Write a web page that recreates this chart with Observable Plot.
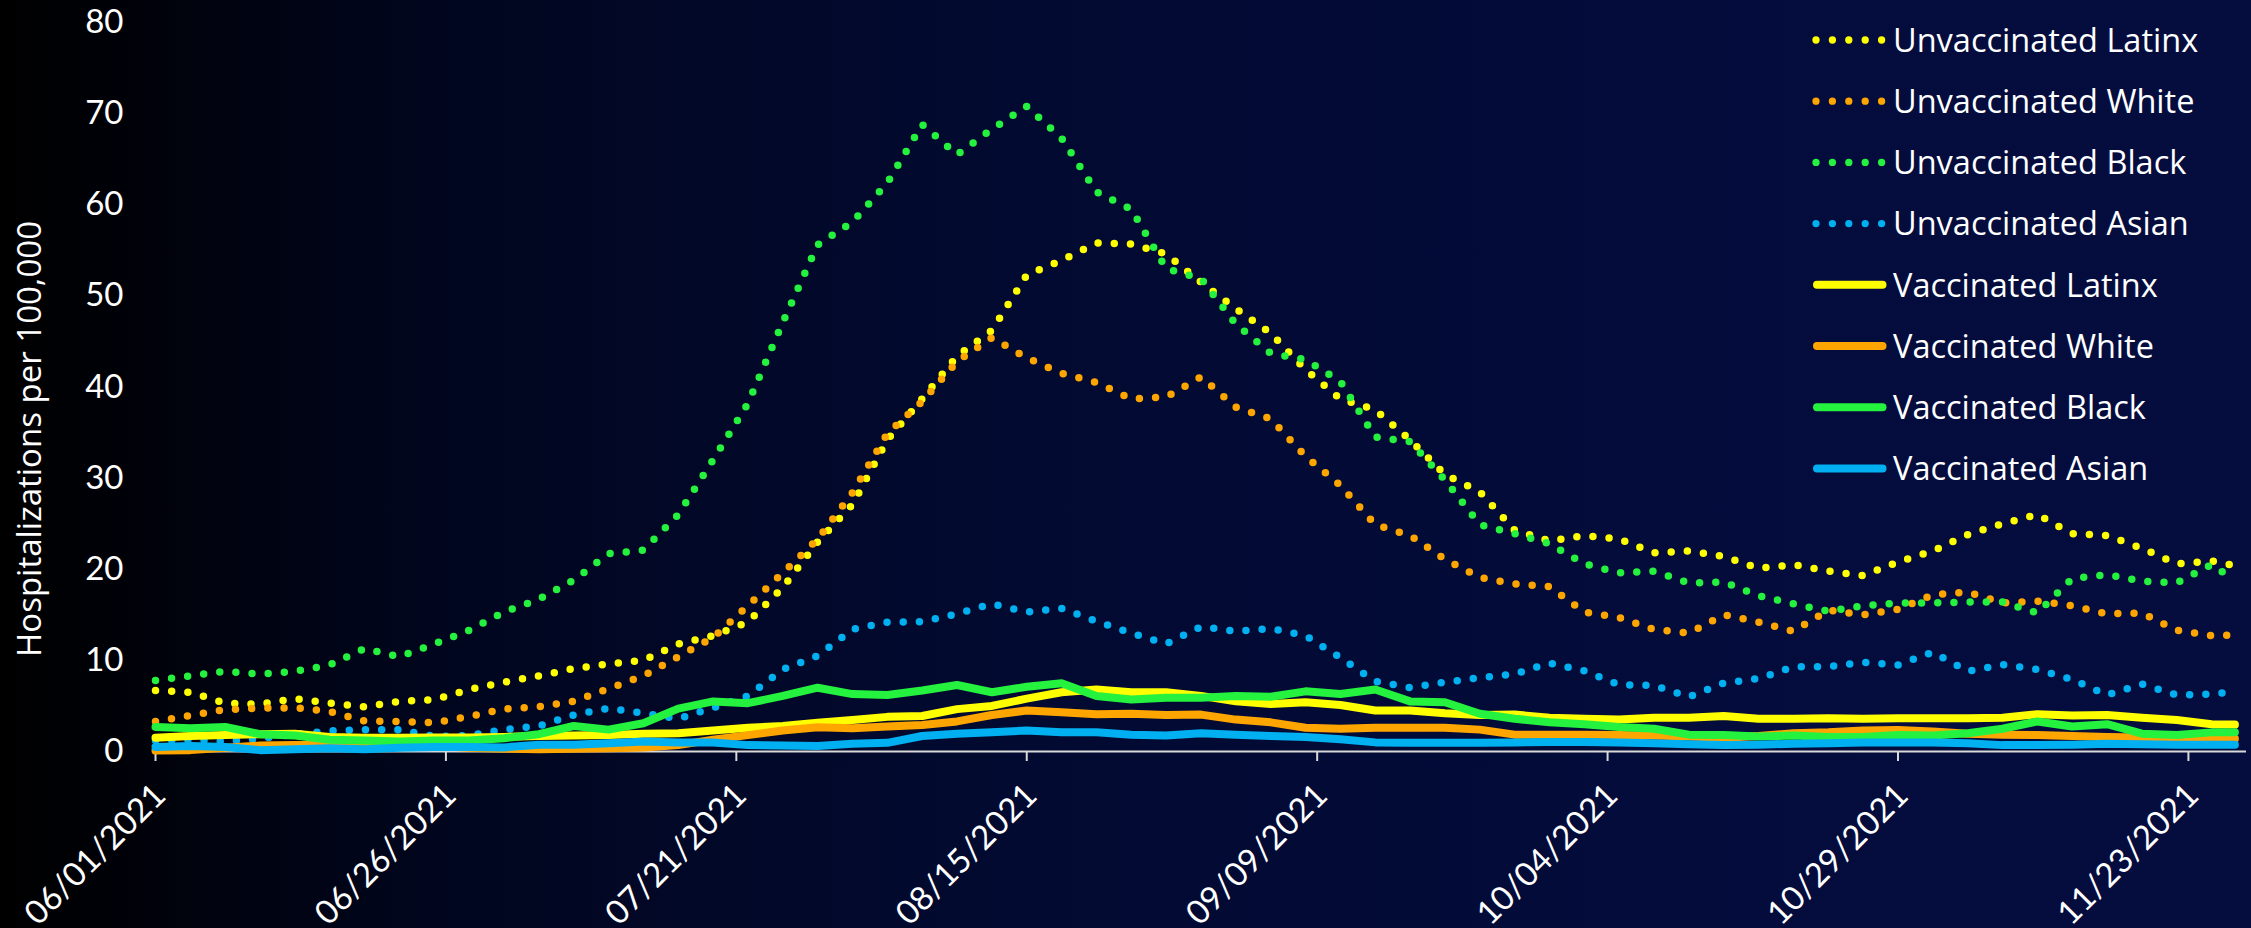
<!DOCTYPE html>
<html>
<head>
<meta charset="utf-8">
<script src="https://cdn.jsdelivr.net/npm/d3@7"></script>
<script src="https://cdn.jsdelivr.net/npm/@observablehq/plot@0.6"></script>
<style>
html, body { margin: 0; padding: 0; }
body {
  width: 2251px; height: 928px; overflow: hidden;
  background: linear-gradient(to right, #000000 0%, #01061f 20%, #020a31 45%, #030c3b 75%, #040d3e 100%);
}
#wrap { position: relative; width: 2251px; height: 928px; }
#legend { position: absolute; left: 1800px; top: 0px; }
</style>
</head>
<body>
<div id="wrap"></div>
<script>
// ---- data ----
const startDate = new Date(Date.UTC(2021, 5, 1));
const endDate = new Date(Date.UTC(2021, 10, 28));
const dayOffsets = [0,3,6,9,12,15,18,21,24,27,30,33,36,39,42,45,48,51,54,57,60,63,66,69,72,75,78,81,84,87,90,93,96,99,102,105,108,111,114,117,120,123,126,129,132,135,138,141,144,147,150,153,156,159,162,165,168,171,174,177,179];

const seriesNames = ["Unvaccinated Latinx","Unvaccinated White","Unvaccinated Black","Unvaccinated Asian","Vaccinated Latinx","Vaccinated White","Vaccinated Black","Vaccinated Asian"];
const seriesColors = ["#FFFF00","#FFA500","#24F23E","#00B0F0","#FFFF00","#FFA500","#24F23E","#00B0F0"];

const unvaccinatedLatinx = [6.7,6.5,5.3,5.2,5.8,5.3,4.9,5.5,5.7,6.8,7.6,8.3,9.1,9.6,10.0,11.8,12.7,14.2,18.0,23.0,27.1,34.2,38.7,43.4,46.2,52.3,53.9,55.8,55.7,54.6,51.5,48.6,45.9,41.9,38.7,37.5,34.2,30.4,28.5,24.3,23.1,23.7,23.3,21.8,22.0,21.4,20.1,20.5,19.8,19.3,20.8,22.0,23.8,25.0,26.0,23.9,23.7,22.3,20.6,20.9,20.4];
const unvaccinatedWhite = [3.3,3.95,4.6,4.75,4.8,4.4,3.35,3.3,3.15,3.85,4.65,4.9,5.5,6.9,8.3,10.4,12.5,16.0,19.6,23.3,28.4,34.9,38.4,42.8,45.4,43.2,41.5,40.5,38.7,38.9,41.1,37.8,36.5,32.4,29.2,24.9,23.7,21.1,19.1,18.4,18.1,15.3,14.7,13.4,13.0,15.0,14.2,13.2,15.5,15.0,15.6,17.2,17.5,16.3,16.5,16.0,15.1,15.2,13.3,12.7,12.8];
const unvaccinatedBlack = [7.8,8.3,8.8,8.5,8.8,9.5,11.3,10.4,11.8,13.3,15.3,16.7,18.8,21.7,22.1,26.0,32.0,38.2,47.1,55.6,58.1,62.4,68.8,65.5,68.3,70.8,67.3,61.4,59.5,53.0,51.9,46.9,43.7,43.0,40.6,34.5,34.0,29.8,24.9,23.9,22.8,20.6,19.6,19.8,18.5,18.6,17.1,16.2,15.4,16.0,16.3,16.3,16.4,16.4,15.2,19.0,19.4,18.7,18.5,20.5,18.8];
const unvaccinatedAsian = [1.2,1.3,1.1,1.4,1.9,2.25,2.4,2.4,1.65,1.75,2.4,2.8,4.0,4.75,4.2,3.6,4.8,6.1,9.0,10.5,13.4,14.2,14.25,15.1,16.2,15.3,15.7,14.3,13.0,11.8,13.7,13.2,13.5,12.7,10.3,7.7,7.0,7.6,8.1,8.5,9.7,8.85,7.3,7.25,6.0,7.5,8.0,9.3,9.3,9.8,9.5,10.9,8.8,9.55,9.0,7.9,6.2,7.4,6.2,6.3,6.6];
const vaccinatedLatinx = [1.5,1.7,1.8,1.9,1.95,1.6,1.5,1.5,1.55,1.55,1.6,1.7,1.75,1.8,1.95,2.0,2.3,2.6,2.8,3.15,3.45,3.8,3.9,4.65,5.0,5.8,6.5,6.8,6.5,6.5,6.1,5.5,5.2,5.4,5.1,4.5,4.5,4.2,4.0,4.05,3.7,3.6,3.5,3.7,3.7,3.9,3.6,3.6,3.65,3.6,3.65,3.65,3.65,3.7,4.1,3.95,4.0,3.7,3.45,3.0,2.95];
const vaccinatedWhite = [0.1,0.15,0.4,0.65,0.7,0.7,0.75,0.8,0.6,0.4,0.3,0.25,0.3,0.35,0.45,0.7,1.3,1.8,2.3,2.65,2.55,2.75,2.9,3.3,4.0,4.5,4.3,4.1,4.15,4.0,4.05,3.5,3.2,2.6,2.5,2.6,2.6,2.6,2.4,1.85,1.85,1.85,1.8,1.75,1.65,1.5,1.7,2.0,2.1,2.3,2.35,2.2,1.95,1.85,1.8,1.7,1.6,1.55,1.55,1.5,1.4];
const vaccinatedBlack = [2.7,2.55,2.7,1.9,1.75,1.3,1.2,1.1,1.2,1.2,1.45,1.9,2.8,2.4,3.1,4.7,5.5,5.3,6.1,7.0,6.3,6.2,6.7,7.3,6.5,7.1,7.5,6.1,5.7,5.9,5.9,6.1,6.0,6.6,6.3,6.8,5.5,5.4,4.15,3.6,3.2,3.0,2.7,2.5,1.85,1.8,1.65,1.75,1.6,1.6,1.8,1.75,2.0,2.5,3.3,2.75,3.0,1.95,1.8,2.1,2.1];
const vaccinatedAsian = [0.5,0.6,0.5,0.15,0.25,0.35,0.25,0.4,0.5,0.5,0.45,0.75,0.75,0.9,1.1,1.0,1.0,0.7,0.65,0.6,0.85,0.95,1.7,1.95,2.1,2.3,2.1,2.1,1.85,1.75,2.0,1.85,1.7,1.6,1.35,1.0,0.95,0.95,0.95,1.0,1.05,1.05,1.0,0.9,0.8,0.7,0.75,0.85,0.9,1.0,1.0,1.0,0.9,0.7,0.7,0.75,0.85,0.8,0.75,0.75,0.75];

const xTickDays = [0,25,50,75,100,125,150,175];
const xTickLabels = ["06/01/2021","06/26/2021","07/21/2021","08/15/2021","09/09/2021","10/04/2021","10/29/2021","11/23/2021"];
const yTicks = [0,10,20,30,40,50,60,70,80];
const yTitle = "Hospitalizations per 100,000";

// ---- build table ----
const seriesValues = [unvaccinatedLatinx, unvaccinatedWhite, unvaccinatedBlack, unvaccinatedAsian,
                      vaccinatedLatinx, vaccinatedWhite, vaccinatedBlack, vaccinatedAsian];
const rows = [];
seriesNames.forEach((name, i) => {
  dayOffsets.forEach((d, j) => {
    rows.push({series: name, date: d3.utcDay.offset(startDate, d), value: seriesValues[i][j], dotted: i < 4});
  });
});
const xTicks = xTickDays.map(d => d3.utcDay.offset(startDate, d));

const tickFont = "Lato, 'Open Sans', sans-serif";
const textFont = "'Open Sans', 'Noto Sans', sans-serif";

const chart = Plot.plot({
  width: 2251,
  height: 928,
  marginLeft: 155,
  marginRight: 5,
  marginTop: 22,
  marginBottom: 177,
  style: {background: "transparent", color: "white", fontFamily: tickFont, overflow: "visible"},
  x: {type: "utc", domain: [startDate, endDate]},
  y: {domain: [0, 80]},
  color: {domain: seriesNames, range: seriesColors},
  marks: [
    Plot.axisY({ticks: yTicks, tickSize: 0, tickPadding: 32, fontSize: 33, label: null, tickFormat: d => String(d)}),
    Plot.ruleY([0], {stroke: "#d9d9d9", strokeWidth: 2}),
    Plot.axisX({ticks: xTicks, tickSize: 10, stroke: "#d9d9d9", strokeWidth: 2, tickFormat: () => "", label: null}),
    Plot.text(xTicks, {x: d => d, text: (d, i) => xTickLabels[i], frameAnchor: "bottom", rotate: -45,
      textAnchor: "end", lineAnchor: "bottom", dx: 12, dy: 46, fontSize: 33, fill: "white"}),
    Plot.text([yTitle], {frameAnchor: "left", rotate: -90, textAnchor: "middle", lineAnchor: "bottom",
      dx: -114.5, dy: 52, fontSize: 33, fontFamily: textFont, fill: "white"}),
    Plot.line(rows.filter(r => r.dotted), {x: "date", y: "value", z: "series", stroke: "series",
      strokeWidth: 7.5, strokeDasharray: "0 16.2", strokeLinecap: "round", strokeLinejoin: "round"}),
    Plot.line(rows.filter(r => !r.dotted), {x: "date", y: "value", z: "series", stroke: "series",
      strokeWidth: 8, strokeLinecap: "round", strokeLinejoin: "round"})
  ]
});
document.getElementById("wrap").appendChild(chart);

// ---- legend ----
const legend = d3.select("#wrap").append("svg")
  .attr("id", "legend").attr("width", 451).attr("height", 500);
seriesNames.forEach((name, i) => {
  const cy = 40 + 61.2 * i;
  const g = legend.append("g");
  const ln = g.append("line").attr("y1", cy).attr("y2", cy)
    .attr("stroke", seriesColors[i]).attr("stroke-linecap", "round");
  if (i < 4) {
    ln.attr("x1", 16).attr("x2", 82).attr("stroke-width", 7.3).attr("stroke-dasharray", "0 16.4");
  } else {
    ln.attr("x1", 17).attr("x2", 82.5).attr("stroke-width", 8);
  }
  g.append("text").attr("x", 93).attr("y", cy + 11.7)
    .attr("fill", "white").attr("font-family", textFont).attr("font-size", 32.5)
    .text(name);
});
</script>
</body>
</html>
